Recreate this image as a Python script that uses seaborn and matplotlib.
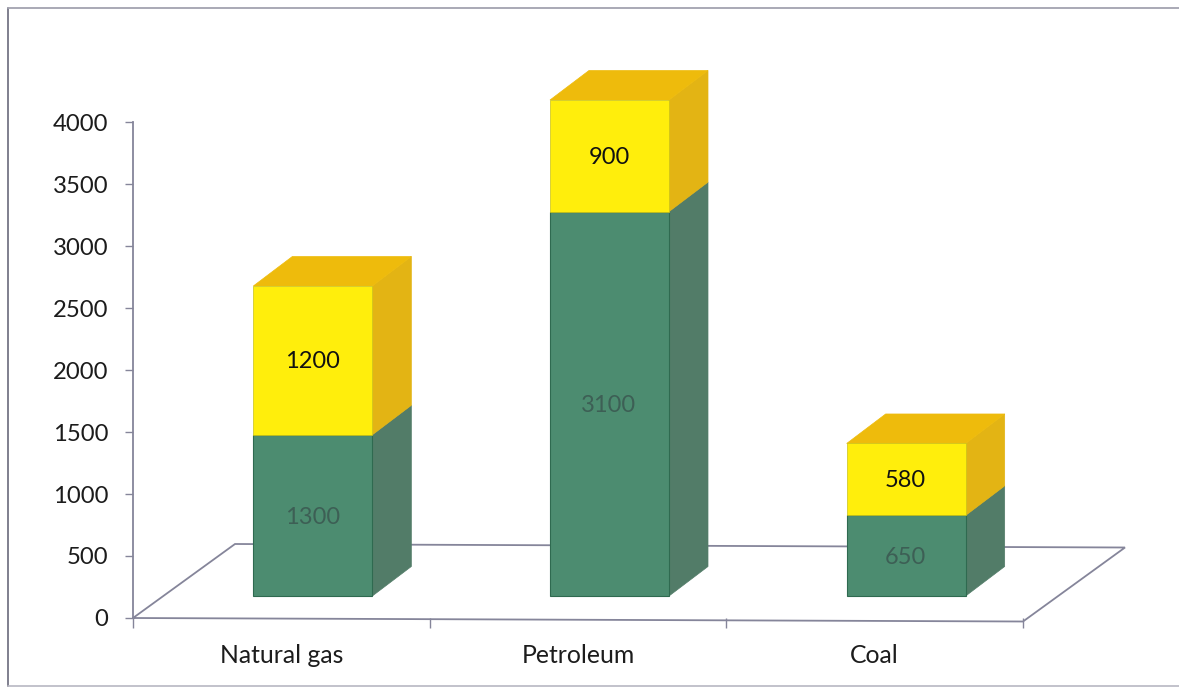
import matplotlib
matplotlib.use("Agg")
import matplotlib.pyplot as plt
from matplotlib.lines import Line2D
from matplotlib.patches import Polygon
import pandas as pd
import seaborn as sns

# Energy sources and the two stacked series
categories = ["Natural gas", "Petroleum", "Coal"]
lower_values = [1300, 3100, 650]
upper_values = [1200, 900, 580]
y_ticks = [0, 500, 1000, 1500, 2000, 2500, 3000, 3500, 4000]

W, H = 1179, 688
AX_L, AX_R, AX_T, AX_B = 133, 1023, 122, 618

GREEN, GREEN_SIDE = "#4c8c70", "#527c68"
YELLOW, YELLOW_SIDE, YELLOW_TOP = "#ffee0c", "#e3b414", "#eebb0c"
AXIS = "#85859a"
TEXT = "#1c1c1c"

sns.set_theme(style="white")
plt.rcParams["font.family"] = ["Lato", "DejaVu Sans"]

fig = plt.figure(figsize=(W / 100, H / 100), dpi=100, facecolor="white")
ax = fig.add_axes([AX_L / W, 1 - AX_B / H, (AX_R - AX_L) / W, (AX_B - AX_T) / H])
ax.patch.set_alpha(0)

# Chart frame, open on the right-hand side
fig.add_artist(Line2D([8 / W, 8 / W], [1 - 686 / H, 1 - 8 / H], transform=fig.transFigure,
                      color="#7f7f8e", lw=1.4))
fig.add_artist(Line2D([8 / W, 1], [1 - 8 / H, 1 - 8 / H], transform=fig.transFigure,
                      color="#a3a3b0", lw=1.3))
fig.add_artist(Line2D([8 / W, 1], [1 - 686 / H, 1 - 686 / H], transform=fig.transFigure,
                      color="#b8b8c2", lw=1.2))

# Projection of the pseudo-3D drawing, in data units
units_per_px = 4000 / (AX_B - AX_T)
px_per_cat = (AX_R - AX_L) / 3
bar_width = 119 / px_per_cat
bar_shift = 31.5 / px_per_cat
bar_lift = 22 * units_per_px
depth_x = 39 / px_per_cat
depth_y = 29.5 * units_per_px
floor_x = 102 / px_per_cat
floor_y = 74 * units_per_px
floor_tilt = 3.5 * units_per_px

df = pd.DataFrame({"source": categories, "lower": lower_values, "upper": upper_values})
df["base"] = bar_lift
df["mid"] = df["base"] + df["lower"]
df["top"] = df["mid"] + df["upper"]

# Floor of the plot
ax.plot([-0.5, -0.5 + floor_x, 2.5 + floor_x, 2.5, -0.5],
        [0, floor_y, floor_y - floor_tilt, -floor_tilt, 0],
        color=AXIS, lw=1.3, clip_on=False, zorder=1, solid_joinstyle="miter")

# Front faces of the stack
sns.barplot(data=df, x="source", y="lower", bottom=df["base"].to_numpy(), width=bar_width,
            color=GREEN, saturation=1, edgecolor="#2f6a50", linewidth=0.8,
            clip_on=False, zorder=4, ax=ax)
sns.barplot(data=df, x="source", y="upper", bottom=df["mid"].to_numpy(), width=bar_width,
            color=YELLOW, saturation=1, edgecolor="#c9c21a", linewidth=0.5,
            clip_on=False, zorder=4, ax=ax)
for patch in ax.patches:
    patch.set_x(patch.get_x() + bar_shift)


def add_face(points, color):
    ax.add_patch(Polygon(points, closed=True, facecolor=color, edgecolor=color,
                         linewidth=0.5, clip_on=False, zorder=3))


# Side and top faces follow from the stacked values
for i, row in df.iterrows():
    right = i + bar_shift + bar_width / 2
    left = i + bar_shift - bar_width / 2
    add_face([(right, row.base), (right + depth_x, row.base + depth_y),
              (right + depth_x, row.mid + depth_y), (right, row.mid)], GREEN_SIDE)
    add_face([(right, row.mid), (right + depth_x, row.mid + depth_y),
              (right + depth_x, row.top + depth_y), (right, row.top)], YELLOW_SIDE)
    add_face([(left, row.top), (right, row.top),
              (right + depth_x, row.top + depth_y), (left + depth_x, row.top + depth_y)], YELLOW_TOP)
    ax.text(i + bar_shift - 0.002, row.base + row.lower / 2 - 14, f"{row.lower}", ha="center",
            va="center", fontsize=17, color="#3d5f55", zorder=6)
    ax.text(i + bar_shift - 0.002, row.mid + row.upper / 2 - 10, f"{row.upper}", ha="center",
            va="center", fontsize=17, color="#111111", zorder=6)

# Axes
ax.set_xlim(-0.5, 2.5)
ax.set_ylim(0, 4000)
ax.set_xlabel("")
ax.set_ylabel("")
ax.set_yticks(y_ticks)
ax.set_xticks([-0.5, 0.5, 1.5, 2.5])
ax.set_xticklabels([])
ax.set_xticks(range(len(categories)), labels=categories, minor=True)
ax.tick_params(axis="y", left=True, length=5.8, width=1, color=AXIS, pad=12,
               labelsize=17.2, labelcolor=TEXT)
ax.tick_params(axis="x", which="major", bottom=True, length=7, width=1, color=AXIS)
ax.tick_params(axis="x", which="minor", bottom=False, length=0, pad=18.5,
               labelsize=17.8, labelcolor=TEXT)
for side in ("top", "right", "bottom"):
    ax.spines[side].set_visible(False)
ax.spines["left"].set_color(AXIS)
ax.spines["left"].set_linewidth(1.3)

fig.savefig("out.png", dpi=100)
